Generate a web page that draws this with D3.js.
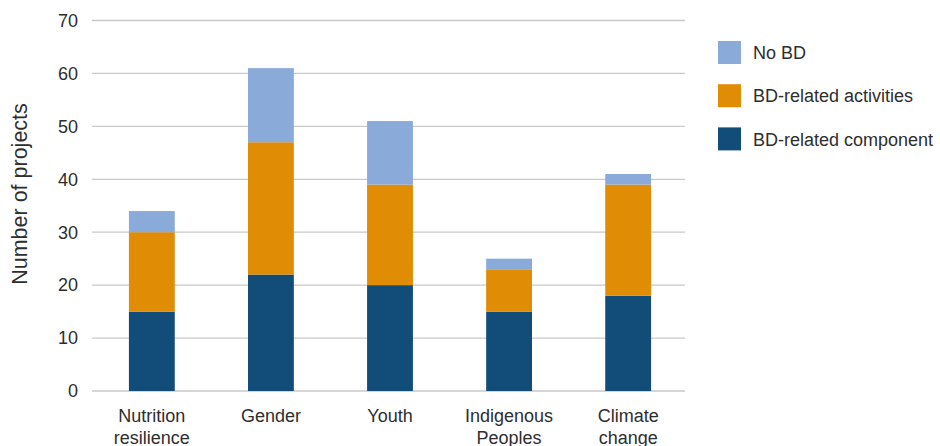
<!DOCTYPE html>
<html><head><meta charset="utf-8">
<script src="https://cdn.jsdelivr.net/npm/d3@7"></script>
<style>body{margin:0;background:#fff}text{font-family:"Liberation Sans",Arial,sans-serif;fill:#2e2e2e}</style>
</head><body><svg id="c" width="940" height="446"></svg>
<script>
const categories = [["Nutrition","resilience"],["Gender"],["Youth"],["Indigenous","Peoples"],["Climate","change"]];
const seriesNames = ["BD-related component","BD-related activities","No BD"];
const component = [15,22,20,15,18];
const activities = [15,25,19,8,21];
const noBD = [4,14,12,2,2];
const yTicks = [0,10,20,30,40,50,60,70];
const colors = ["#124c78","#e08c04","#8aaada"];

const svg = d3.select("#c");
const x = d3.scaleBand().domain(d3.range(categories.length)).range([92,688]).paddingInner(0.615).paddingOuter(0.31);
const y = d3.scaleLinear().domain([0,70]).range([391,20.5]);

svg.append("g").selectAll("line").data(yTicks).join("line")
  .attr("x1",92).attr("x2",685).attr("y1",d=>y(d)).attr("y2",d=>y(d))
  .attr("stroke","#c9c9c9").attr("stroke-width",1.3);
svg.append("g").selectAll("text").data(yTicks).join("text")
  .attr("x",78).attr("y",d=>y(d)+6.3).attr("text-anchor","end").attr("font-size",18).text(d=>d);

const rows = categories.map((c,i)=>({i, "BD-related component":component[i], "BD-related activities":activities[i], "No BD":noBD[i]}));
const stack = d3.stack().keys(seriesNames)(rows);
svg.append("g").selectAll("g").data(stack).join("g").attr("fill",(d,k)=>colors[k])
  .selectAll("rect").data(d=>d).join("rect")
  .attr("x",d=>x(d.data.i)).attr("width",x.bandwidth())
  .attr("y",d=>y(d[1])).attr("height",d=>y(d[0])-y(d[1]));

const xl = svg.append("g").selectAll("text").data(categories).join("text")
  .attr("text-anchor","middle").attr("font-size",18)
  .attr("transform",(d,i)=>`translate(${x(i)+x.bandwidth()/2},421.5)`);
xl.selectAll("tspan").data(d=>d).join("tspan").attr("x",0).attr("dy",(d,j)=>j?22:0).text(d=>d);

svg.append("text").attr("transform","translate(27,194) rotate(-90)").attr("text-anchor","middle")
  .attr("font-size",21.5).text("Number of projects");

const legendItems = [{n:"No BD",c:colors[2]},{n:"BD-related activities",c:colors[1]},{n:"BD-related component",c:colors[0]}];
const lg = svg.append("g").selectAll("g").data(legendItems).join("g")
  .attr("transform",(d,i)=>`translate(718,${41+i*43.2})`);
lg.append("rect").attr("width",23).attr("height",23).attr("fill",d=>d.c);
lg.append("text").attr("x",35).attr("y",18.3).attr("font-size",18).text(d=>d.n);
</script></body></html>
